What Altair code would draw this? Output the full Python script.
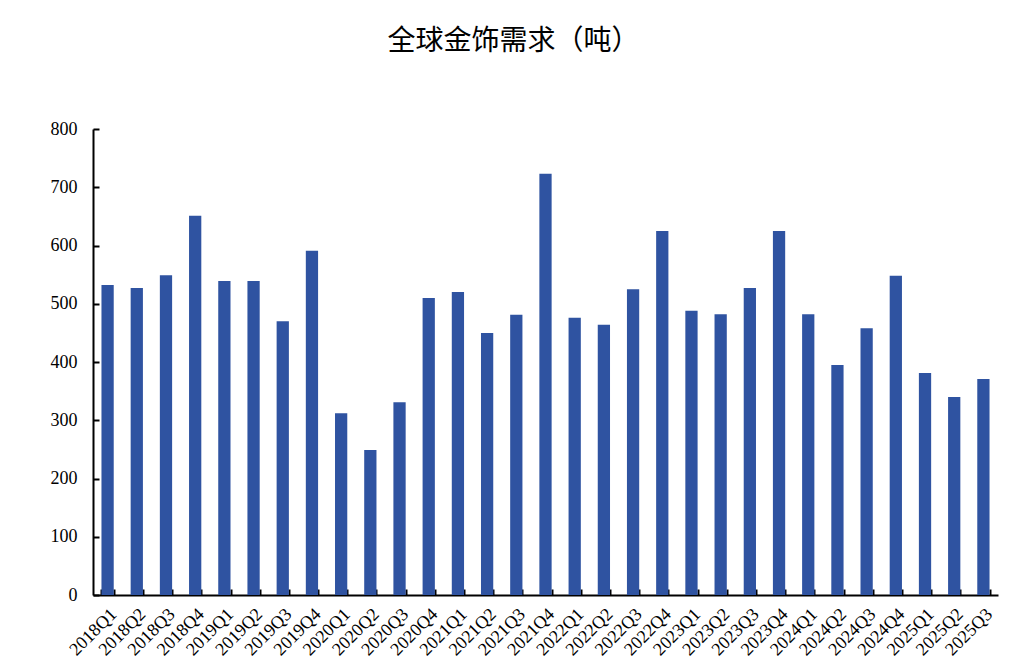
import altair as alt
import pandas as pd

quarters = [
    "2018Q1", "2018Q2", "2018Q3", "2018Q4",
    "2019Q1", "2019Q2", "2019Q3", "2019Q4",
    "2020Q1", "2020Q2", "2020Q3", "2020Q4",
    "2021Q1", "2021Q2", "2021Q3", "2021Q4",
    "2022Q1", "2022Q2", "2022Q3", "2022Q4",
    "2023Q1", "2023Q2", "2023Q3", "2023Q4",
    "2024Q1", "2024Q2", "2024Q3", "2024Q4",
    "2025Q1", "2025Q2", "2025Q3",
]
demand = [
    532, 527, 549, 651,
    539, 539, 470, 591,
    312, 249, 331, 510,
    520, 450, 481, 723,
    476, 464, 525, 625,
    488, 482, 527, 625,
    482, 395, 458, 548,
    381, 340, 371,
]

df = pd.DataFrame({"quarter": quarters, "demand": demand})

W, H = 905, 466
FONT = "Times New Roman, Liberation Serif, serif"

xscale = alt.Scale(paddingInner=0.58, paddingOuter=0.29)
yscale = alt.Scale(domain=[0, 800])

bars = alt.Chart(df).mark_bar(color="#2F53A1").encode(
    x=alt.X("quarter:N", sort=quarters, scale=xscale, title=None,
            axis=alt.Axis(orient="bottom", labelAngle=-45, labelFontSize=18,
                          labelFont=FONT, labelColor="#000", ticks=False,
                          domainColor="#000", domainWidth=2, labelPadding=10)),
    y=alt.Y("demand:Q", scale=yscale, title=None,
            axis=alt.Axis(orient="left", values=list(range(0, 801, 100)),
                          labelFontSize=18, labelFont=FONT, labelColor="#000",
                          ticks=False, grid=False, domainColor="#000",
                          domainWidth=2, labelPadding=16)),
)

tick_layer = alt.Chart(df).mark_bar(opacity=0).encode(
    x=alt.X("quarter:N", sort=quarters, scale=xscale, title=None,
            axis=alt.Axis(orient="top", offset=-H, labels=False, domain=False,
                          ticks=True, tickBand="extent", tickSize=6,
                          tickColor="#000", tickWidth=2)),
    y=alt.Y("demand:Q", scale=yscale, title=None,
            axis=alt.Axis(orient="right", offset=-W, labels=False, domain=False,
                          values=list(range(0, 801, 100)), grid=False,
                          ticks=True, tickSize=6, tickColor="#000", tickWidth=2)),
)

chart = alt.layer(bars, tick_layer).resolve_axis(
    x="independent", y="independent"
).properties(
    width=W, height=H,
    title=alt.Title("全球金饰需求（吨）", font="Noto Sans CJK SC", fontSize=28,
                    fontWeight="normal", color="#000", anchor="middle",
                    offset=64, dx=-32),
    autosize=alt.AutoSizeParams(type="none"),
    padding={"left": 85, "top": 121, "right": 20, "bottom": 70},
).configure_view(stroke=None)

chart.save("out.html", embed_options={"renderer": "svg", "actions": False})
